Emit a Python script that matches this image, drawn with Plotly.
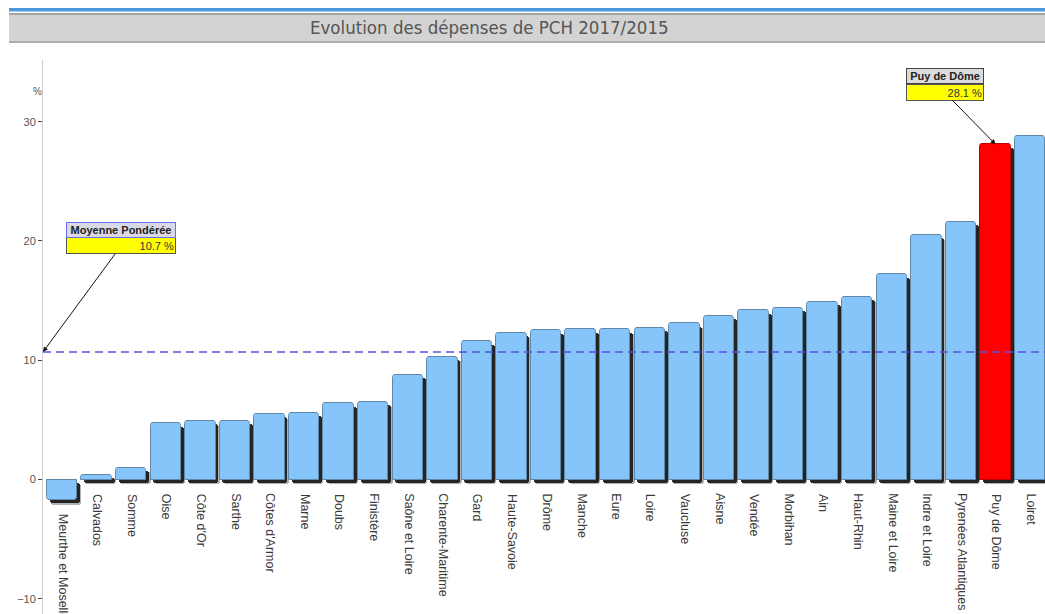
import plotly.graph_objects as go

# Départements, sorted by PCH spending change 2017 vs 2015 (%)
departements = [
    "Meurthe et Moselle", "Calvados", "Somme", "Oise", "Côte d'Or", "Sarthe",
    "Côtes d'Armor", "Marne", "Doubs", "Finistère", "Saône et Loire",
    "Charente-Maritime", "Gard", "Haute-Savoie", "Drôme", "Manche", "Eure",
    "Loire", "Vaucluse", "Aisne", "Vendée", "Morbihan", "Ain", "Haut-Rhin",
    "Maine et Loire", "Indre et Loire", "Pyrenées Atlantiques", "Puy de Dôme",
    "Loiret",
]
evolution = [
    -1.7, 0.4, 1.0, 4.7, 4.9, 4.9, 5.5, 5.6, 6.4, 6.5, 8.8, 10.3, 11.6, 12.3,
    12.5, 12.6, 12.6, 12.7, 13.1, 13.7, 14.2, 14.4, 14.9, 15.3, 17.2, 20.5,
    21.6, 28.1, 28.8,
]
highlight = "Puy de Dôme"
moyenne_ponderee = 10.7
y_ticks = [-10, 0, 10, 20, 30]

W, H = 1045, 614


def px(x):
    return x / W


def py(y):
    return 1 - y / H


idx = list(range(len(departements)))
BAR_W = 0.88
fill = ["#ff0000" if d == highlight else "#86c5fa" for d in departements]
edge = ["#c00000" if d == highlight else "#5f88aa" for d in departements]
SANS = "Liberation Sans, Arial"

fig = go.Figure()

# soft drop shadow under each bar (outer layer lighter)
for dx, dy, alpha in [(0.12, 0.4, 0.3), (0.08, 0.28, 0.8)]:
    fig.add_trace(go.Bar(
        x=idx, y=evolution, base=[-dy] * len(idx),
        width=BAR_W, offset=-BAR_W / 2 + dx,
        marker=dict(color=f"rgba(0,0,0,{alpha})", line=dict(width=0), cornerradius=3),
        hoverinfo="skip", showlegend=False,
    ))

fig.add_trace(go.Bar(
    x=idx, y=evolution, width=BAR_W, offset=-BAR_W / 2,
    marker=dict(color=fill, line=dict(color=edge, width=1), cornerradius=3),
    customdata=departements,
    hovertemplate="%{customdata}: %{y:.1f} %<extra></extra>",
    showlegend=False,
))

annotations = []
# category labels, rotated, just below each bar
for i, (name, v) in enumerate(zip(departements, evolution)):
    annotations.append(dict(
        x=i, y=min(0, v), xref="x", yref="y", text=name, showarrow=False,
        textangle=90, xanchor="center", yanchor="top", yshift=-12, xshift=1,
        font=dict(family=SANS, size=12.5, color="#3a3a3a"),
    ))

# weighted average call-out
annotations += [
    dict(x=px(43), y=moyenne_ponderee, xref="paper", yref="y",
         text=f"{moyenne_ponderee:.1f} %", showarrow=True, ax=78, ay=-106,
         arrowhead=2, arrowsize=1, arrowwidth=1, arrowcolor="#111",
         width=106, height=13, align="right", bgcolor="#ffff00",
         bordercolor="#555", borderwidth=1, borderpad=1,
         font=dict(family=SANS, size=11, color="#333")),
    dict(x=px(43), y=moyenne_ponderee, xref="paper", yref="y",
         text="<b>Moyenne Pondérée</b>", showarrow=False, xshift=78, yshift=122,
         xanchor="center", yanchor="middle",
         width=106, height=12, align="center", bgcolor="#d9d9e6",
         bordercolor="#6a6af0", borderwidth=1, borderpad=1,
         font=dict(family=SANS, size=11, color="#222")),
]

# highlighted département call-out
hi = departements.index(highlight)
hv = evolution[hi]
annotations += [
    dict(x=hi, y=hv, xref="x", yref="y", text=f"{hv:.1f} %", showarrow=True,
         ax=-51, ay=-52, arrowhead=2, arrowsize=1, arrowwidth=1, arrowcolor="#111",
         width=74, height=13, align="right", bgcolor="#ffff00",
         bordercolor="#555", borderwidth=1, borderpad=1,
         font=dict(family=SANS, size=11, color="#333")),
    dict(x=hi, y=hv, xref="x", yref="y", text=f"<b>{highlight}</b>",
         showarrow=False, xshift=-51, yshift=68, xanchor="center", yanchor="middle",
         width=74, height=12, align="center", bgcolor="#dcdcdc",
         bordercolor="#444", borderwidth=1, borderpad=1,
         font=dict(family=SANS, size=11, color="#222")),
]

# unit label and title
annotations += [
    dict(x=px(37), y=py(91), xref="paper", yref="paper", text="%",
         xanchor="center", yanchor="middle", showarrow=False,
         font=dict(family=SANS, size=10, color="#555")),
    dict(x=px(489), y=py(27), xref="paper", yref="paper",
         text="Evolution des dépenses de PCH 2017/2015", showarrow=False,
         xanchor="center", yanchor="middle",
         font=dict(family="DejaVu Sans Condensed, Roboto Condensed, Liberation Sans Narrow, Liberation Sans",
                   size=18.5, color="#555")),
]

shapes = [
    # header band
    dict(type="rect", xref="paper", yref="paper", x0=px(9), x1=1, y0=py(11.5), y1=py(8),
         fillcolor="#4b97dc", line=dict(width=0)),
    dict(type="rect", xref="paper", yref="paper", x0=px(9), x1=1, y0=py(15), y1=py(13),
         fillcolor="#a3a3a3", line=dict(width=0)),
    dict(type="rect", xref="paper", yref="paper", x0=px(9), x1=1, y0=py(41), y1=py(15),
         fillcolor="#d3d3d3", line=dict(width=0)),
    dict(type="rect", xref="paper", yref="paper", x0=px(9), x1=1, y0=py(43), y1=py(41),
         fillcolor="#adadad", line=dict(width=0)),
    # weighted average reference line
    dict(type="line", xref="paper", yref="y", x0=px(43), x1=1,
         y0=moyenne_ponderee, y1=moyenne_ponderee,
         line=dict(color="#5552dd", width=1.5, dash="8px,5px")),
]

fig.update_layout(
    width=W, height=H,
    margin=dict(l=0, r=0, t=0, b=0),
    paper_bgcolor="white", plot_bgcolor="white",
    barmode="overlay", bargap=0,
    xaxis=dict(domain=[px(43), 1], range=[-0.55, 28.43], showticklabels=False,
               showgrid=False, zeroline=False, showline=False, ticks=""),
    yaxis=dict(domain=[0, py(60)], range=[-11.27, 35.17], tickvals=y_ticks,
               showgrid=False, zeroline=False, showline=True, linecolor="#cfcfcf",
               linewidth=1, ticks="outside", ticklen=4, tickcolor="#444",
               tickfont=dict(family=SANS, size=11, color="#555")),
    annotations=annotations,
    shapes=shapes,
)

fig.write_html("out.html")
